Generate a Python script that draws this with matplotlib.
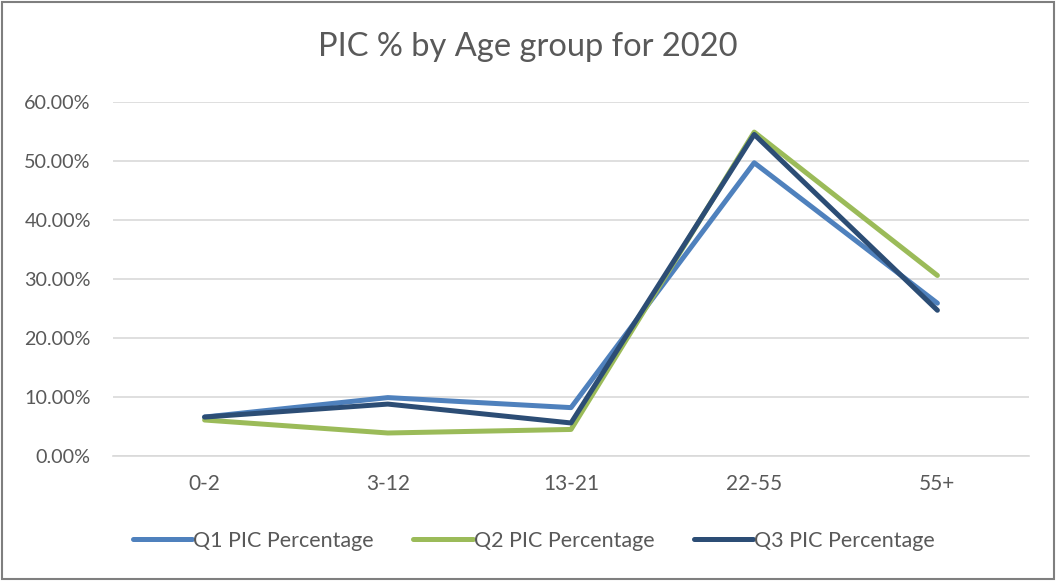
import matplotlib.pyplot as plt
from matplotlib.patches import Rectangle
from matplotlib.ticker import PercentFormatter

# PIC share per age group, per quarter (percent)
age_groups = ["0-2", "3-12", "13-21", "22-55", "55+"]
q1_pct = [6.6, 9.9, 8.2, 49.7, 25.9]
q2_pct = [6.1, 3.9, 4.5, 54.9, 30.6]
q3_pct = [6.6, 8.8, 5.6, 54.5, 24.7]

series = [
    ("Q1 PIC Percentage", q1_pct, "#4F81BD"),
    ("Q2 PIC Percentage", q2_pct, "#9BBB59"),
    ("Q3 PIC Percentage", q3_pct, "#2C4D75"),
]


def main():
    plt.rcParams["font.family"] = ["Lato", "DejaVu Sans"]
    text_color = "#595959"

    fig = plt.figure(figsize=(10.56, 5.81), dpi=100)
    ax = fig.add_axes([113 / 1056, 1 - 456 / 581, 916 / 1056, 354 / 581])

    x = range(len(age_groups))
    for label, values, color in series:
        ax.plot(x, values, color=color, lw=3.6, label=label,
                solid_capstyle="round", solid_joinstyle="round")

    ax.set_xlim(-0.5, len(age_groups) - 0.5)
    ax.set_ylim(0, 60)
    ax.set_yticks(range(0, 61, 10))
    ax.yaxis.set_major_formatter(PercentFormatter(decimals=2))
    ax.set_xticks(list(x))
    ax.set_xticklabels(age_groups)
    ax.grid(axis="y", color="#D9D9D9", lw=1.2)
    ax.set_axisbelow(True)
    for side in ["top", "right", "left"]:
        ax.spines[side].set_visible(False)
    ax.spines["bottom"].set_color("#D9D9D9")
    ax.spines["bottom"].set_linewidth(1.2)
    ax.tick_params(length=0, colors=text_color)
    ax.tick_params(axis="y", pad=16, labelsize=14.2)
    ax.tick_params(axis="x", pad=13, labelsize=15)

    fig.text(0.5, 1 - 47 / 581, "PIC % by Age group for 2020", ha="center",
             va="center", fontsize=23.5, color=text_color)

    fig.legend(loc="center", bbox_to_anchor=(0.5 + 6 / 1056, 1 - 541 / 581), ncol=3,
               frameon=False, fontsize=15.5, labelcolor=text_color,
               handlelength=2.75, handletextpad=0.05, columnspacing=1.85)

    # chart border
    fig.add_artist(Rectangle((0.002, 0.003), 0.996, 0.994, transform=fig.transFigure,
                             fill=False, edgecolor="#7F7F7F", lw=1.5))

    fig.savefig("out.png", dpi=100)


if __name__ == "__main__":
    main()
